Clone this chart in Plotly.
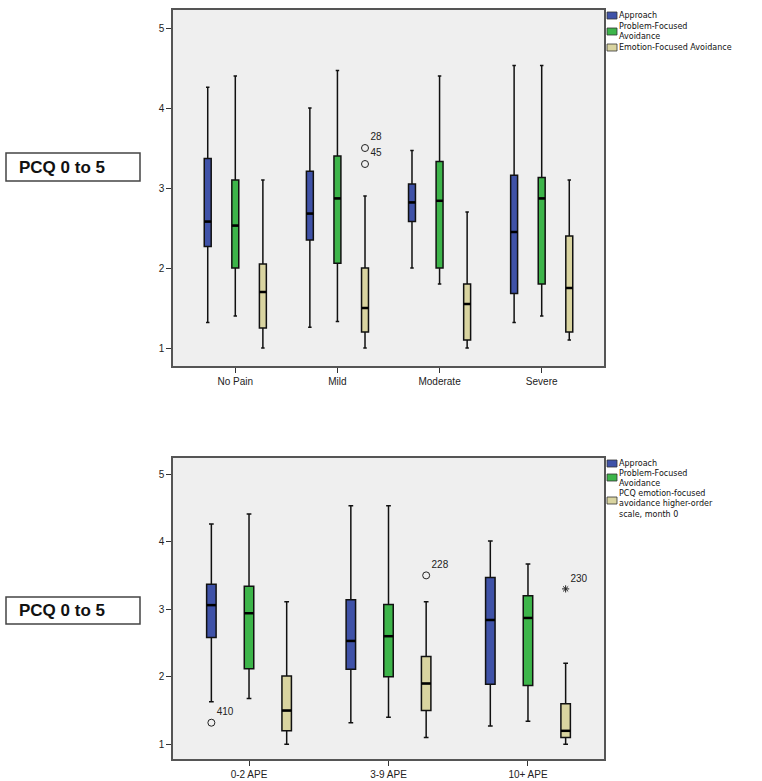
import plotly.graph_objects as go

# ---------------- data ----------------
top_categories = ["No Pain", "Mild", "Moderate", "Severe"]
bottom_categories = ["0-2 APE", "3-9 APE", "10+ APE"]
panel_label = "PCQ 0 to 5"
series_names = ["Approach", "Problem-Focused Avoidance", "Emotion-Focused Avoidance"]
legend_labels_top = ["Approach", "Problem-Focused\nAvoidance", "Emotion-Focused Avoidance"]
legend_labels_bottom = ["Approach", "Problem-Focused\nAvoidance",
                        "PCQ emotion-focused\navoidance higher-order\nscale, month 0"]
y_ticks = [1, 2, 3, 4, 5]

# top panel (pain groups): lower whisker, q1, median, q3, upper whisker
top_approach_low = [1.32, 1.26, 2.00, 1.32]
top_approach_q1 = [2.27, 2.35, 2.58, 1.68]
top_approach_med = [2.58, 2.68, 2.82, 2.45]
top_approach_q3 = [3.37, 3.21, 3.05, 3.16]
top_approach_high = [4.26, 4.00, 3.47, 4.53]

top_problem_low = [1.40, 1.33, 1.80, 1.40]
top_problem_q1 = [2.00, 2.06, 2.00, 1.80]
top_problem_med = [2.53, 2.87, 2.84, 2.87]
top_problem_q3 = [3.10, 3.40, 3.33, 3.13]
top_problem_high = [4.40, 4.47, 4.40, 4.53]

top_emotion_low = [1.00, 1.00, 1.00, 1.10]
top_emotion_q1 = [1.25, 1.20, 1.10, 1.20]
top_emotion_med = [1.70, 1.50, 1.55, 1.75]
top_emotion_q3 = [2.05, 2.00, 1.80, 2.40]
top_emotion_high = [3.10, 2.90, 2.70, 3.10]

# top outliers: category index, series index, value, case label, symbol
top_outlier_cat = [1, 1]
top_outlier_series = [2, 2]
top_outlier_value = [3.50, 3.30]
top_outlier_label = ["28", "45"]
top_outlier_kind = ["o", "o"]

# bottom panel (APE groups)
bot_approach_low = [1.63, 1.32, 1.27]
bot_approach_q1 = [2.58, 2.11, 1.89]
bot_approach_med = [3.06, 2.53, 2.84]
bot_approach_q3 = [3.37, 3.14, 3.47]
bot_approach_high = [4.26, 4.53, 4.01]

bot_problem_low = [1.68, 1.40, 1.34]
bot_problem_q1 = [2.12, 2.00, 1.87]
bot_problem_med = [2.94, 2.60, 2.87]
bot_problem_q3 = [3.34, 3.07, 3.20]
bot_problem_high = [4.41, 4.53, 3.67]

bot_emotion_low = [1.00, 1.10, 1.00]
bot_emotion_q1 = [1.20, 1.50, 1.10]
bot_emotion_med = [1.50, 1.90, 1.20]
bot_emotion_q3 = [2.01, 2.30, 1.60]
bot_emotion_high = [3.11, 3.11, 2.20]

bot_outlier_cat = [0, 1, 2]
bot_outlier_series = [0, 2, 2]
bot_outlier_value = [1.32, 3.50, 3.30]
bot_outlier_label = ["410", "228", "230"]
bot_outlier_kind = ["o", "o", "*"]

# ---------------- style ----------------
W, H = 762, 781
colors = ["#3f52a8", "#3db54a", "#d9d4a0"]
series_offset = [-0.27, 0.0, 0.27]
box_width = 0.068
FONT = "Liberation Sans, Arial, sans-serif"
LEGFONT = "DejaVu Sans, sans-serif"
bg = "#efefef"
frame = "#555555"


def px(x):
    return x / W


def py(y):
    return 1 - y / H


fig = go.Figure()

top_stats = [
    (top_approach_low, top_approach_q1, top_approach_med, top_approach_q3, top_approach_high),
    (top_problem_low, top_problem_q1, top_problem_med, top_problem_q3, top_problem_high),
    (top_emotion_low, top_emotion_q1, top_emotion_med, top_emotion_q3, top_emotion_high),
]
bot_stats = [
    (bot_approach_low, bot_approach_q1, bot_approach_med, bot_approach_q3, bot_approach_high),
    (bot_problem_low, bot_problem_q1, bot_problem_med, bot_problem_q3, bot_problem_high),
    (bot_emotion_low, bot_emotion_q1, bot_emotion_med, bot_emotion_q3, bot_emotion_high),
]


def add_panel(stats, ncat, xa, ya):
    for s, (lo, q1, med, q3, hi) in enumerate(stats):
        xs = [i + series_offset[s] for i in range(ncat)]
        fig.add_trace(go.Box(
            x=xs, lowerfence=lo, q1=q1, median=med, q3=q3, upperfence=hi,
            width=box_width, whiskerwidth=0.5,
            fillcolor=colors[s], line=dict(color="#111111", width=1.5),
            name=series_names[s], showlegend=False, boxpoints=False,
            xaxis=xa, yaxis=ya,
        ))
        # thicker median line
        mx, my = [], []
        for i in range(ncat):
            mx += [xs[i] - box_width / 2, xs[i] + box_width / 2, None]
            my += [med[i], med[i], None]
        fig.add_trace(go.Scatter(x=mx, y=my, mode="lines",
                                 line=dict(color="#000000", width=2.5),
                                 showlegend=False, hoverinfo="skip",
                                 xaxis=xa, yaxis=ya))


def add_outliers(cats, sers, vals, labels, kinds, xa, ya):
    for c, s, v, lab, k in zip(cats, sers, vals, labels, kinds):
        fig.add_trace(go.Scatter(
            x=[c + series_offset[s]], y=[v], mode="markers+text",
            marker=dict(symbol="circle-open" if k == "o" else "asterisk-open",
                        size=7 if k == "o" else 6, color="#222222",
                        line=dict(width=1, color="#222222")),
            text=[lab], textposition="top right",
            textfont=dict(family=FONT, size=10, color="#222222"),
            showlegend=False, xaxis=xa, yaxis=ya))


add_panel(top_stats, len(top_categories), "x", "y")
add_outliers(top_outlier_cat, top_outlier_series, top_outlier_value,
             top_outlier_label, top_outlier_kind, "x", "y")
add_panel(bot_stats, len(bottom_categories), "x2", "y2")
add_outliers(bot_outlier_cat, bot_outlier_series, bot_outlier_value,
             bot_outlier_label, bot_outlier_kind, "x2", "y2")

axis_common = dict(showline=True, mirror=True, linecolor=frame, linewidth=1.5,
                   ticks="outside", ticklen=5, tickcolor="#333333", tickwidth=1,
                   showgrid=False, zeroline=False,
                   tickfont=dict(family=FONT, size=10, color="#222222"))

fig.update_layout(
    width=W, height=H, margin=dict(l=0, r=0, t=0, b=0),
    paper_bgcolor="white", plot_bgcolor=bg, showlegend=False,
    xaxis=dict(domain=[px(173), px(604)], range=[-0.61, 3.61],
               tickvals=list(range(len(top_categories))), ticktext=top_categories,
               anchor="y", **axis_common),
    yaxis=dict(domain=[py(366), py(10)], range=[0.775, 5.225],
               tickvals=y_ticks, anchor="x", **axis_common),
    xaxis2=dict(domain=[px(173), px(604)], range=[-0.545, 2.545],
                tickvals=list(range(len(bottom_categories))), ticktext=bottom_categories,
                anchor="y2", **axis_common),
    yaxis2=dict(domain=[py(759), py(458)], range=[0.783, 5.237],
                tickvals=y_ticks, anchor="x2", **axis_common),
)

shapes, annos = [], []

# manual legends: swatch box (top, bottom) and text block centre (px from top)
legend_layout = [
    (legend_labels_top, [(12, 19), (28, 35), (44, 51)], [15.5, 31.2, 47.5]),
    (legend_labels_bottom, [(460, 467), (474, 481), (497, 504)], [463.0, 478.2, 504.4]),
]
for labels, sw, centres in legend_layout:
    for s, lab in enumerate(labels):
        y0, y1 = sw[s]
        shapes.append(dict(type="rect", xref="paper", yref="paper",
                           x0=px(607), x1=px(617), y0=py(y1), y1=py(y0),
                           fillcolor=colors[s], line=dict(color="#333333", width=0.8)))
        annos.append(dict(xref="paper", yref="paper", x=px(617), y=py(centres[s]),
                          xanchor="left", yanchor="middle", showarrow=False, align="left",
                          text="<br>".join(lab.split("\n")),
                          font=dict(family=LEGFONT, size=8, color="#111111")))

# panel labels
for (y0, y1) in [(153, 181), (597, 624)]:
    shapes.append(dict(type="rect", xref="paper", yref="paper",
                       x0=px(6), x1=px(140), y0=py(y1), y1=py(y0),
                       line=dict(color="#444444", width=1.5), fillcolor="white"))
    annos.append(dict(xref="paper", yref="paper", x=px(17), y=py((y0 + y1) / 2),
                      xanchor="left", yanchor="middle", showarrow=False,
                      text="<b>" + panel_label + "</b>",
                      font=dict(family=FONT, size=17, color="#111111")))

fig.update_layout(shapes=shapes, annotations=annos)

fig.write_html("out.html", config={"displayModeBar": False},
               post_script="document.body.style.margin='0';")
